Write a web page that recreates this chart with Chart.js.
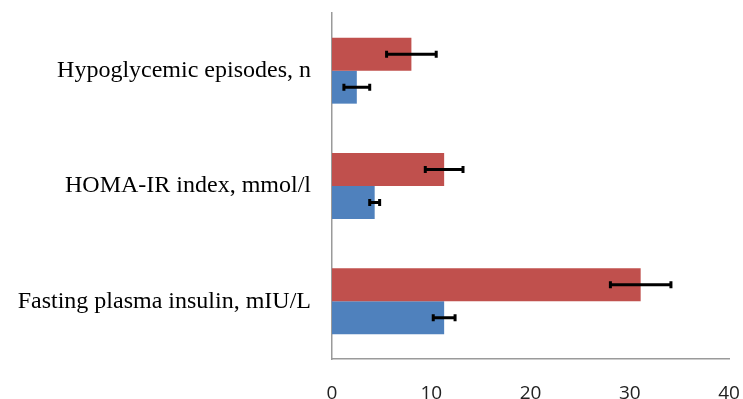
<!DOCTYPE html>
<html>
<head>
<meta charset="utf-8">
<script src="https://cdn.jsdelivr.net/npm/chart.js@4/dist/chart.umd.min.js"></script>
<style>
  html, body { margin: 0; padding: 0; background: #fff; }
  #wrap { width: 743px; height: 399px; }
</style>
</head>
<body>
<div id="wrap"><canvas id="myChart" width="743" height="399"></canvas></div>
<script>
// categories, top to bottom
const categories = ['Hypoglycemic episodes, n', 'HOMA-IR index, mmol/l', 'Fasting plasma insulin, mIU/L'];

// red series (upper bar in each group)
const redValues = [8.0, 11.3, 31.1];
const redErrors = [2.5, 1.9, 3.05];

// blue series (lower bar in each group)
const blueValues = [2.5, 4.3, 11.3];
const blueErrors = [1.3, 0.5, 1.1];

const xTicks = [0, 10, 20, 30, 40];

// draws the black error whiskers on top of the bars
const errorBars = {
    id: 'errorBars',
    afterDatasetsDraw(chart) {
        const ctx = chart.ctx;
        const xs = chart.scales.x;
        ctx.save();
        ctx.strokeStyle = '#000';
        ctx.lineWidth = 3;
        chart.data.datasets.forEach((ds, i) => {
            const meta = chart.getDatasetMeta(i);
            meta.data.forEach((bar, j) => {
                const v = ds.data[j], e = ds.errors[j];
                const x1 = xs.getPixelForValue(v - e);
                const x2 = xs.getPixelForValue(v + e);
                const y = bar.y;
                ctx.beginPath();
                ctx.moveTo(x1, y); ctx.lineTo(x2, y);
                ctx.moveTo(x1, y - 3.5); ctx.lineTo(x1, y + 3.5);
                ctx.moveTo(x2, y - 3.5); ctx.lineTo(x2, y + 3.5);
                ctx.stroke();
            });
        });
        ctx.restore();
    }
};

var ctx = document.getElementById('myChart').getContext('2d');
var myChart = new Chart(ctx, {
    type: 'bar',
    data: {
        labels: categories,
        datasets: [{
            label: 'Group 1',
            data: redValues,
            errors: redErrors,
            backgroundColor: '#C0504D',
            borderWidth: 0
        }, {
            label: 'Group 2',
            data: blueValues,
            errors: blueErrors,
            backgroundColor: '#4F81BD',
            borderWidth: 0
        }]
    },
    plugins: [errorBars],
    options: {
        indexAxis: 'y',
        responsive: false,
        animation: false,
        layout: {
            padding: { top: 13, right: 14, left: 0, bottom: 0 }
        },
        datasets: {
            bar: {
                categoryPercentage: 0.572,
                barPercentage: 1.0
            }
        },
        scales: {
            x: {
                min: 0,
                max: 40,
                afterBuildTicks: (s) => { s.ticks = xTicks.map(v => ({ value: v })); },
                afterFit: (s) => { s.height = 40; s.paddingLeft = 0; s.paddingRight = 0; },
                grid: { display: false, drawTicks: false },
                border: { display: true, color: '#9a9a9a', width: 1.5 },
                ticks: {
                    color: '#222',
                    padding: 23,
                    font: { family: 'Open Sans', size: 19 }
                }
            },
            y: {
                afterFit: (s) => { s.width = 332; s.paddingTop = 0; s.paddingBottom = 0; },
                grid: { display: false, drawTicks: false },
                border: { display: true, color: '#9a9a9a', width: 1.5 },
                ticks: {
                    color: '#000',
                    padding: 21,
                    font: { family: 'Liberation Serif', size: 24 }
                }
            }
        },
        plugins: {
            legend: { display: false },
            tooltip: { enabled: false }
        }
    }
});
</script>
</body>
</html>
